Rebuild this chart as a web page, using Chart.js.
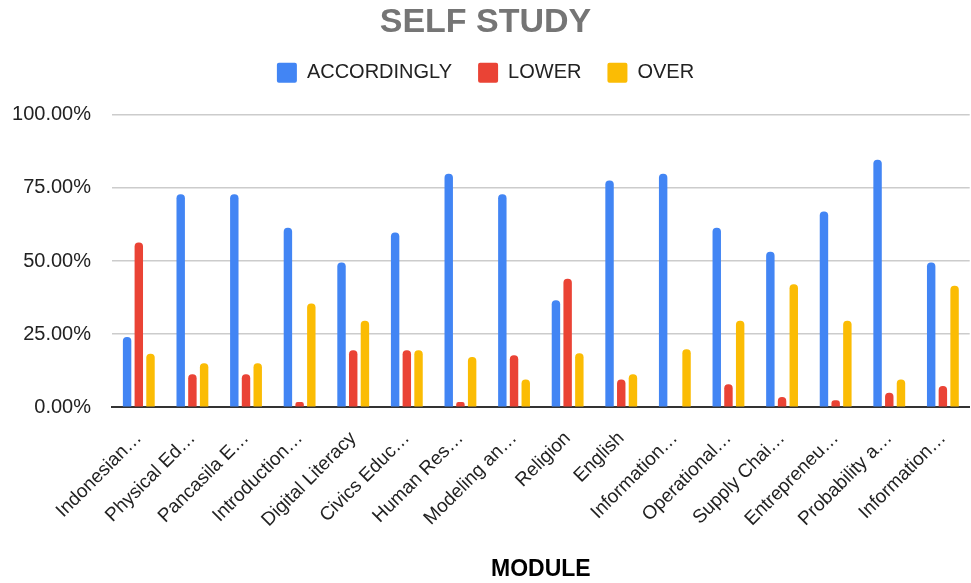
<!DOCTYPE html>
<html lang="en">
<head>
  <meta charset="UTF-8">
  <title>Self Study</title>
  <script src="https://cdn.jsdelivr.net/npm/chart.js@4.4.0/dist/chart.umd.min.js"></script>
  <style>
    html, body { margin: 0; padding: 0; background: #fff; }
    .chartdiv { width: 971px; height: 583px; }
  </style>
</head>
<body>
  <div class="chartdiv">
    <canvas id="myChart"></canvas>
  </div>

  <script>
    // module names, shortened the way the original chart shows them
    const modules = [
      'Indonesian…', 'Physical Ed…', 'Pancasila E…', 'Introduction…',
      'Digital Literacy', 'Civics Educ…', 'Human Res…', 'Modeling an…',
      'Religion', 'English', 'Information…', 'Operational…',
      'Supply Chai…', 'Entrepreneu…', 'Probability a…', 'Information…'
    ];

    // percentages per module
    const accordingly = [24, 72.8, 72.8, 61.4, 49.5, 59.7, 79.8, 72.8, 36.6, 77.5, 79.8, 61.4, 53.2, 66.9, 84.6, 49.5];
    const lower       = [56.3, 11.3, 11.3, 1.8, 19.5, 19.5, 1.8, 17.8, 43.9, 9.5, 0, 7.8, 3.5, 2.4, 4.9, 7.2];
    const over        = [18.3, 15, 15, 35.5, 29.6, 19.5, 17.2, 9.5, 18.4, 11.3, 19.8, 29.6, 42, 29.6, 9.5, 41.5];

    const yTicks = [0, 25, 50, 75, 100];

    const font = 'Liberation Sans, Arial, sans-serif';

    function barSet(label, values, color) {
      return {
        label: label,
        data: values,
        backgroundColor: color,
        borderColor: color,
        borderWidth: 0,
        borderRadius: { topLeft: 4, topRight: 4 },
        borderSkipped: 'start',
        barPercentage: 0.72,
        categoryPercentage: 0.655
      };
    }

    /* push the plot down a bit below the legend */
    const legendGap = {
      id: 'legendGap',
      beforeInit(chart) {
        const fit = chart.legend.fit;
        chart.legend.fit = function () {
          fit.bind(chart.legend)();
          this.height += 22;
        };
      }
    };

    const config = {
      type: 'bar',
      data: {
        labels: modules,
        datasets: [
          barSet('ACCORDINGLY', accordingly, '#4285F4'),
          barSet('LOWER', lower, '#EA4335'),
          barSet('OVER', over, '#FBBC04')
        ]
      },
      options: {
        responsive: true,
        maintainAspectRatio: false,
        animation: false,
        layout: { padding: { left: 0, right: 0, top: 2, bottom: 0 } },
        plugins: {
          title: {
            display: true,
            text: 'SELF STUDY',
            color: '#757575',
            font: { family: font, size: 34, weight: 'bold' },
            padding: { top: 0, bottom: -6 }
          },
          legend: {
            position: 'top',
            labels: {
              color: '#222',
              font: { family: font, size: 20 },
              boxWidth: 20,
              boxHeight: 20,
              padding: 26,
              useBorderRadius: true,
              borderRadius: 2
            }
          },
          tooltip: { enabled: false }
        },
        scales: {
          x: {
            grid: { display: false },
            border: { display: true, color: '#333', width: 2 },
            ticks: {
              color: '#222',
              font: { family: font, size: 19 },
              minRotation: 45,
              maxRotation: 45,
              autoSkip: false,
              padding: 12
            },
            title: {
              display: true,
              text: 'MODULE',
              color: '#000',
              font: { family: font, size: 23, weight: 'bold' },
              padding: { top: 12, bottom: 0 }
            }
          },
          y: {
            min: 0,
            max: 100,
            afterBuildTicks(scale) {
              scale.ticks = yTicks.map(v => ({ value: v }));
            },
            afterFit(scale) {
              scale.width = 112;
            },
            border: { display: false },
            grid: {
              drawTicks: false,
              lineWidth: 1.5,
              color: ctx => ctx.tick && ctx.tick.value === 0 ? '#333' : '#cccccc'
            },
            ticks: {
              color: '#222',
              font: { family: font, size: 20 },
              padding: 21,
              callback: v => v.toFixed(2) + '%'
            }
          }
        }
      },
      plugins: [legendGap]
    };

    new Chart(document.getElementById('myChart'), config);
  </script>
</body>
</html>
